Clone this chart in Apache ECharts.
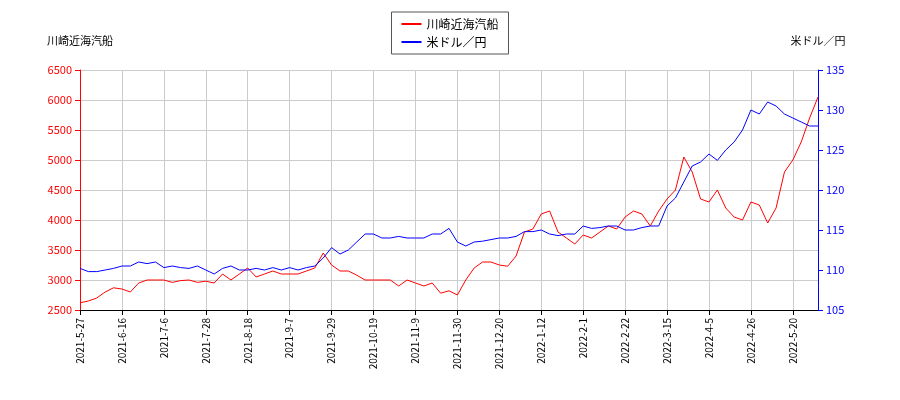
<!DOCTYPE html>
<html>
<head>
<meta charset="utf-8">
<script src="https://cdn.jsdelivr.net/npm/echarts@6/dist/echarts.min.js"></script>
<style>body{margin:0}#c{width:900px;height:400px}</style>
</head>
<body>
<div id="c"></div>
<script>
// tick labels, one every 5 points
const tickLabels = ['2021-5-27', '2021-6-16', '2021-7-6', '2021-7-28', '2021-8-18', '2021-9-7', '2021-9-29',
  '2021-10-19', '2021-11-9', '2021-11-30', '2021-12-20', '2022-1-12', '2022-2-1', '2022-2-22',
  '2022-3-15', '2022-4-5', '2022-4-26', '2022-5-20']

const kawasaki = [2620, 2650, 2700, 2800, 2870, 2850, 2800, 2950, 3000, 3000, 3000, 2960, 2990, 3000, 2960, 2980,
  2950, 3100, 3000, 3100, 3200, 3050, 3100, 3150, 3100, 3100, 3100, 3150, 3200, 3450, 3250, 3150, 3150, 3080,
  3000, 3000, 3000, 3000, 2900, 3000, 2950, 2900, 2950, 2780, 2820, 2750, 3000, 3200, 3300, 3300, 3250, 3230,
  3400, 3800, 3850, 4100, 4150, 3800, 3700, 3600, 3750, 3700, 3800, 3900, 3850, 4050, 4150, 4100, 3900, 4150,
  4350, 4500, 5050, 4800, 4350, 4300, 4500, 4200, 4050, 4000, 4300, 4250, 3950, 4200, 4800, 5000, 5300, 5700, 6050]

const usdjpy = [110.2, 109.8, 109.8, 110, 110.2, 110.5, 110.5, 111, 110.8, 111, 110.3, 110.5, 110.3, 110.2, 110.5,
  110, 109.5, 110.2, 110.5, 110, 110, 110.2, 110, 110.3, 110, 110.3, 110, 110.3, 110.5, 111.5, 112.8, 112, 112.5,
  113.5, 114.5, 114.5, 114, 114, 114.2, 114, 114, 114, 114.5, 114.5, 115.2, 113.5, 113, 113.5, 113.6, 113.8, 114,
  114, 114.2, 114.8, 114.8, 115, 114.5, 114.3, 114.5, 114.5, 115.5, 115.2, 115.3, 115.5, 115.5, 115, 115, 115.3,
  115.5, 115.5, 118, 119, 121, 123, 123.5, 124.5, 123.7, 125, 126, 127.5, 130, 129.5, 131, 130.5, 129.5, 129,
  128.5, 128, 128]

const n = Math.min(kawasaki.length, usdjpy.length)
const categories = []
for (let i = 0; i < n; i++) categories.push(i % 5 === 0 ? (tickLabels[i / 5] || '') : '')

const font = '"Noto Sans CJK JP", sans-serif'
const chart = echarts.init(document.getElementById('c'))
chart.setOption({
  animation: false,
  textStyle: {fontFamily: font},
  grid: {left: 80, right: 82, top: 70, bottom: 90},
  legend: {
    top: 12, left: 'center', orient: 'vertical', itemWidth: 20, itemHeight: 2, itemGap: 6,
    borderColor: '#555', borderWidth: 1, padding: [6, 10], textStyle: {fontSize: 12, color: '#000'},
    data: [{name: '川崎近海汽船', icon: 'rect'}, {name: '米ドル／円', icon: 'rect'}]
  },
  xAxis: {
    type: 'category', data: categories, boundaryGap: false,
    axisLine: {lineStyle: {color: '#000'}},
    axisTick: {interval: i => i % 5 === 0, lineStyle: {color: '#000'}},
    axisLabel: {interval: i => i % 5 === 0, rotate: 90, fontSize: 10, color: '#000'},
    splitLine: {show: true, interval: i => i % 5 === 0, lineStyle: {color: '#ccc'}}
  },
  yAxis: [{
    type: 'value', min: 2500, max: 6500, interval: 500, name: '川崎近海汽船',
    nameTextStyle: {color: '#000', fontSize: 11, align: 'center', padding: [0, 0, 6, 0]},
    nameGap: 18,
    axisLine: {show: true, lineStyle: {color: 'red'}}, axisTick: {show: true},
    axisLabel: {color: 'red', fontSize: 11, formatter: v => String(v)},
    splitLine: {lineStyle: {color: '#ccc'}}
  }, {
    type: 'value', min: 105, max: 135, interval: 5, name: '米ドル／円',
    nameTextStyle: {color: '#000', fontSize: 11, align: 'center', padding: [0, 0, 6, 0]},
    nameGap: 18,
    axisLine: {show: true, lineStyle: {color: 'blue'}}, axisTick: {show: true},
    axisLabel: {color: 'blue', fontSize: 11},
    splitLine: {show: false}
  }],
  series: [{
    name: '川崎近海汽船', type: 'line', data: kawasaki.slice(0, n), yAxisIndex: 0,
    showSymbol: false, color: 'red', lineStyle: {width: 1}
  }, {
    name: '米ドル／円', type: 'line', data: usdjpy.slice(0, n), yAxisIndex: 1,
    showSymbol: false, color: 'blue', lineStyle: {width: 1}
  }]
})
</script>
</body>
</html>
